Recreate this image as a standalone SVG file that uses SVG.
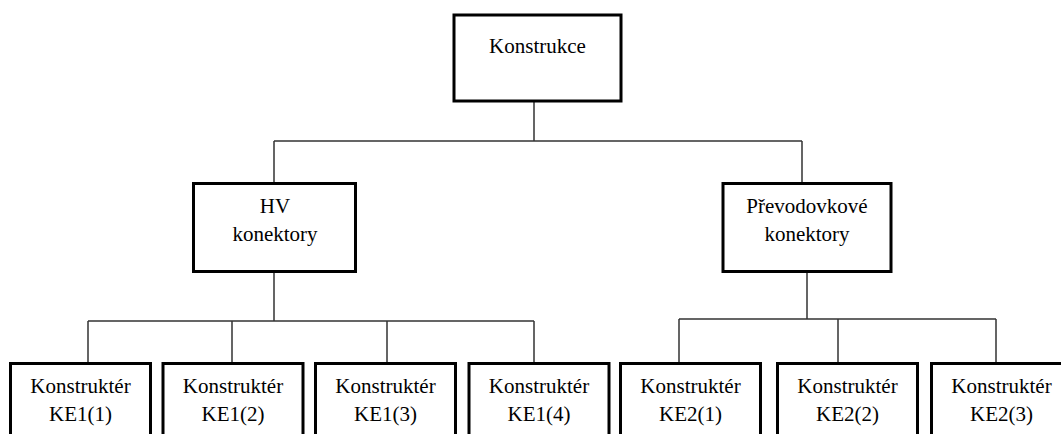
<svg xmlns="http://www.w3.org/2000/svg" width="1061" height="434" viewBox="0 0 1061 434">
  <style>
    .box { fill: #ffffff; stroke: #000000; stroke-width: 3; }
    .lbl { font-family: 'Liberation Serif', 'DejaVu Serif', serif; font-size: 21px; fill: #000000; text-anchor: middle; }
    .conn { fill: none; stroke: #333333; stroke-width: 1.5; }
  </style>
  <rect width="1061" height="434" fill="#ffffff"/>

  <!-- connectors -->
  <g id="connectors">
    <path class="conn" d="M534,102 V141 M274,141 H802 M274,141 V183 M802,141 V183"/>
    <path class="conn" d="M274,272 V321 M88,321 H534 M88,321 V362 M232,321 V362 M387,321 V362 M534,321 V362"/>
    <path class="conn" d="M807,272 V319 M679,319 H996 M679,319 V362 M838,319 V362 M996,319 V362"/>
  </g>

  <g id="konstrukce">
    <rect class="box" x="454" y="15" width="167" height="86"/>
    <text class="lbl" x="537.5" y="53">Konstrukce</text>
  </g>

  <g id="hv-konektory">
    <rect class="box" x="193.5" y="183.5" width="162" height="88"/>
    <text class="lbl" x="275" y="213">HV</text>
    <text class="lbl" x="275" y="241">konektory</text>
  </g>

  <g id="prevodovkove-konektory">
    <rect class="box" x="723" y="183.5" width="168" height="88"/>
    <text class="lbl" x="807" y="213">Převodovkové</text>
    <text class="lbl" x="807" y="241">konektory</text>
  </g>

  <g id="ke1-1">
    <rect class="box" x="10.5" y="363.5" width="140" height="90"/>
    <text class="lbl" x="80.5" y="393">Konstruktér</text>
    <text class="lbl" x="80.5" y="421">KE1(1)</text>
  </g>
  <g id="ke1-2">
    <rect class="box" x="163" y="363.5" width="140" height="90"/>
    <text class="lbl" x="233" y="393">Konstruktér</text>
    <text class="lbl" x="233" y="421">KE1(2)</text>
  </g>
  <g id="ke1-3">
    <rect class="box" x="315.5" y="363.5" width="140" height="90"/>
    <text class="lbl" x="385.5" y="393">Konstruktér</text>
    <text class="lbl" x="385.5" y="421">KE1(3)</text>
  </g>
  <g id="ke1-4">
    <rect class="box" x="469" y="363.5" width="140" height="90"/>
    <text class="lbl" x="539" y="393">Konstruktér</text>
    <text class="lbl" x="539" y="421">KE1(4)</text>
  </g>
  <g id="ke2-1">
    <rect class="box" x="620.5" y="363.5" width="140" height="90"/>
    <text class="lbl" x="690.5" y="393">Konstruktér</text>
    <text class="lbl" x="690.5" y="421">KE2(1)</text>
  </g>
  <g id="ke2-2">
    <rect class="box" x="777.5" y="363.5" width="140" height="90"/>
    <text class="lbl" x="847.5" y="393">Konstruktér</text>
    <text class="lbl" x="847.5" y="421">KE2(2)</text>
  </g>
  <g id="ke2-3">
    <rect class="box" x="931.5" y="363.5" width="140" height="90"/>
    <text class="lbl" x="1001.5" y="393">Konstruktér</text>
    <text class="lbl" x="1001.5" y="421">KE2(3)</text>
  </g>
</svg>
